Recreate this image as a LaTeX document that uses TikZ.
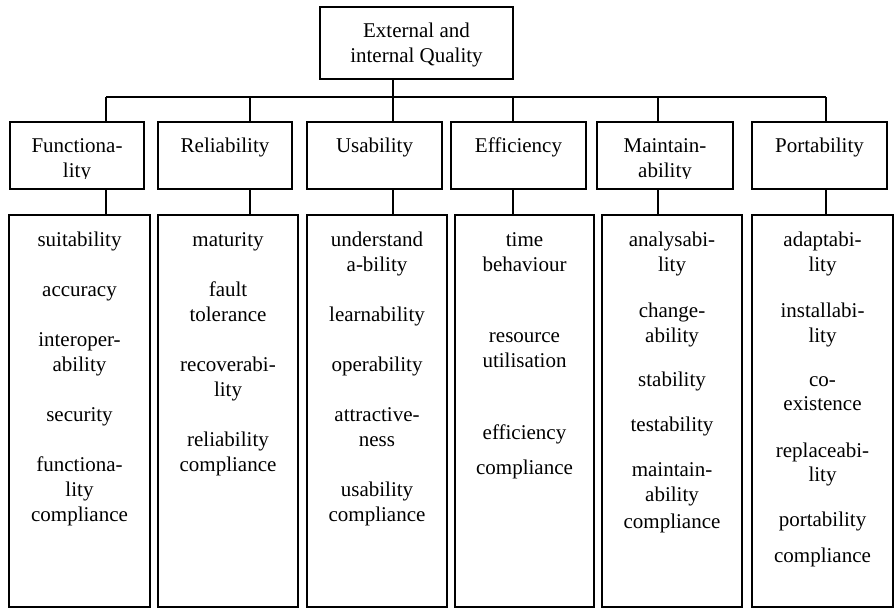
\documentclass[tikz,border=0pt]{standalone}
\usepackage{fontspec}
\setmainfont{Liberation Serif}
\begin{document}
\begin{tikzpicture}[x=1pt,y=-1pt,line width=1.4pt,
  box/.style={draw,rectangle,inner sep=0pt},
  catbox/.style={box,minimum height=67pt},
  subbox/.style={box,minimum height=392pt},
  lbl/.style={anchor=base,inner sep=0pt,font=\fontsize{21}{25}\selectfont}]
\useasboundingbox (0,0) rectangle (894,608);
% top
\node[box,minimum width=193pt,minimum height=72pt] (top) at (416.5,43) {};
\node[lbl] (t1) at (416.5,37) {External and};
\node[lbl] (t2) at (416.5,62) {internal Quality};
% categories
\node[catbox,minimum width=134pt] (c1) at (77,155.5) {};
\node[catbox,minimum width=134pt] (c2) at (225,155.5) {};
\node[catbox,minimum width=135pt] (c3) at (374.5,155.5) {};
\node[catbox,minimum width=135pt] (c4) at (518.5,155.5) {};
\node[catbox,minimum width=136pt] (c5) at (665,155.5) {};
\node[catbox,minimum width=135pt] (c6) at (819.5,155.5) {};
\node[lbl] (c1a) at (77,152) {Functiona-};
\node[lbl] (c2a) at (225,152) {Reliability};
\node[lbl] (c3a) at (374.5,152) {Usability};
\node[lbl] (c4a) at (518.5,152) {Efficiency};
\node[lbl] (c5a) at (665,152) {Maintain-};
\node[lbl] (c6a) at (819.5,152) {Portability};
\begin{scope}
\clip (0,158) rectangle (894,178.5);
\node[lbl] (c1b) at (77,177) {lity};
\node[lbl] (c5b) at (665,177) {ability};
\end{scope}
% sub boxes
\node[subbox,minimum width=141pt] (s1) at (79.5,411) {};
\node[subbox,minimum width=140pt] (s2) at (228,411) {};
\node[subbox,minimum width=140pt] (s3) at (377,411) {};
\node[subbox,minimum width=139pt] (s4) at (524.5,411) {};
\node[subbox,minimum width=140pt] (s5) at (672,411) {};
\node[subbox,minimum width=141pt] (s6) at (822.5,411) {};
% sub texts
\foreach \t/\y [count=\i] in {suitability/246,accuracy/296,interoper-/346,ability/371,security/421,functiona-/471,lity/496,compliance/521}
  \node[lbl] (f\i) at (79.5,\y) {\t};
\foreach \t/\y [count=\i] in {maturity/246,fault/296,tolerance/321,recoverabi-/371,lity/396,reliability/446,compliance/471}
  \node[lbl] (r\i) at (228,\y) {\t};
\foreach \t/\y [count=\i] in {understand/246,a-bility/271,learnability/321,operability/371,attractive-/421,ness/446,usability/496,compliance/521}
  \node[lbl] (u\i) at (377,\y) {\t};
\foreach \t/\y [count=\i] in {time/246,behaviour/271,resource/342,utilisation/367,efficiency/439,compliance/474}
  \node[lbl] (e\i) at (524.5,\y) {\t};
\foreach \t/\y [count=\i] in {analysabi-/246,lity/271,change-/317,ability/342,stability/386,testability/431,maintain-/476,ability/501,compliance/528}
  \node[lbl] (m\i) at (672,\y) {\t};
\foreach \t/\y [count=\i] in {adaptabi-/246,lity/271,installabi-/317,lity/342,co-/386,existence/410,replaceabi-/457,lity/481,portability/526,compliance/562}
  \node[lbl] (p\i) at (822.5,\y) {\t};
% connectors
\coordinate (jt) at (393,97);
\coordinate (j1) at (106,97);
\coordinate (j2) at (250,97);
\coordinate (j3) at (393,97);
\coordinate (j4) at (513,97);
\coordinate (j5) at (658,97);
\coordinate (j6) at (826,97);
\draw (top.south -| jt) -- (jt);
\draw (j1) -- (j6);
\foreach \i in {1,...,6}{
  \draw (j\i) -- (j\i |- c\i.north);
  \draw (c\i.south -| j\i) -- (j\i |- s\i.north);
}
\end{tikzpicture}
\end{document}
